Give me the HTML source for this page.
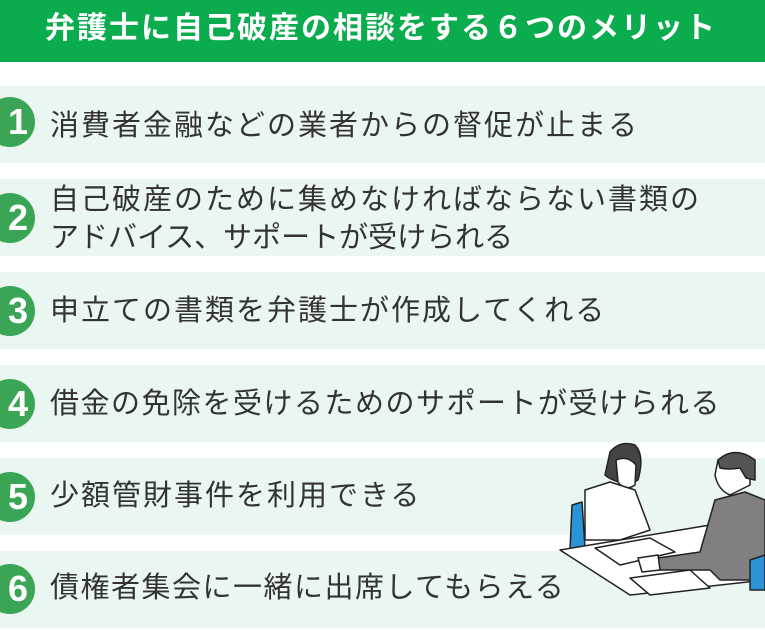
<!DOCTYPE html>
<html><head><meta charset="utf-8"><style>
*{margin:0;padding:0}
body{width:765px;height:630px;background:#fff;position:relative;overflow:hidden;font-family:"Liberation Sans","Noto Sans CJK JP",sans-serif}
.h{position:absolute;left:0;top:0;width:765px;height:62px;background:#0aac4e;color:#fff;font-weight:bold;font-size:30px;line-height:58px;padding-left:45px;box-sizing:border-box;letter-spacing:2px;white-space:nowrap}
.r{position:absolute;left:0;width:765px;height:77px;background:#eaf6f1}
.c{position:absolute;left:-15px;width:50px;height:50px;border-radius:50%;background:#3aa655;color:#fff;font-weight:bold;font-size:36px;line-height:50px;text-align:right;box-sizing:border-box;padding-right:7px}
.t{position:absolute;left:50px;color:#333;font-size:29px;line-height:38px;white-space:nowrap;letter-spacing:2px}
</style></head><body>
<div class="h">弁護士に自己破産の相談をする６つのメリット</div>
<div class="r" style="top:86px"></div>
<div class="r" style="top:179px"></div>
<div class="r" style="top:272px"></div>
<div class="r" style="top:365px"></div>
<div class="r" style="top:458px"></div>
<div class="r" style="top:551px"></div>
<div class="c" style="top:97px">1</div>
<div class="c" style="top:193px">2</div>
<div class="c" style="top:286px">3</div>
<div class="c" style="top:379px">4</div>
<div class="c" style="top:472px">5</div>
<div class="c" style="top:564px">6</div>
<div class="t" style="top:107px">消費者金融などの業者からの督促が止まる</div>
<div class="t" style="top:181px">自己破産のために集めなければならない書類の<br><span style="letter-spacing:0">アドバイス、サポートが受けられる</span></div>
<div class="t" style="top:292px">申立ての書類を弁護士が作成してくれる</div>
<div class="t" style="top:385px;letter-spacing:1.5px">借金の免除を受けるためのサポートが受けられる</div>
<div class="t" style="top:477px">少額管財事件を利用できる</div>
<div class="t" style="top:569px;letter-spacing:1.5px">債権者集会に一緒に出席してもらえる</div>
<svg style="position:absolute;left:550px;top:430px" width="215" height="200" viewBox="0 0 215 200">
<g stroke="#222" stroke-width="1.5" stroke-linejoin="round">
<path d="M22 75 L32 72 L35 118 L20 120 Z" fill="#2a95d6"/>
<path d="M60 22 Q70 10 85 15 Q95 25 88 50 L78 55 Q60 50 55 45 Z" fill="#444"/>
<path d="M66 30 Q78 25 86 35 L85 55 Q75 62 68 52 Z" fill="#fff"/>
<path d="M35 60 L60 52 L85 60 L100 100 L70 110 L35 110 Z" fill="#fff"/>
<path d="M10 120 L160 95 L215 105 L215 150 L80 165 Z" fill="#fff"/>
<path d="M45 118 L100 108 L125 122 L70 135 Z" fill="#fff"/>
<path d="M80 148 L140 140 L160 158 L100 165 Z" fill="#fff"/>
<path d="M168 30 Q185 20 200 30 L200 55 L180 65 Q168 60 165 45 Z" fill="#fff"/>
<path d="M168 30 Q185 15 205 30 L205 50 L196 48 L190 38 Q178 40 170 38 Z" fill="#555"/>
<path d="M165 70 L195 62 L215 70 L215 150 L170 150 L160 140 L110 140 L108 128 L150 122 Z" fill="#808080"/>
<path d="M200 130 L215 125 L215 160 L200 160 Z" fill="#2a95d6"/>
<path d="M88 128 L108 125 L110 140 L92 142 Z" fill="#fff"/>
</g>
</svg>
</body></html>
